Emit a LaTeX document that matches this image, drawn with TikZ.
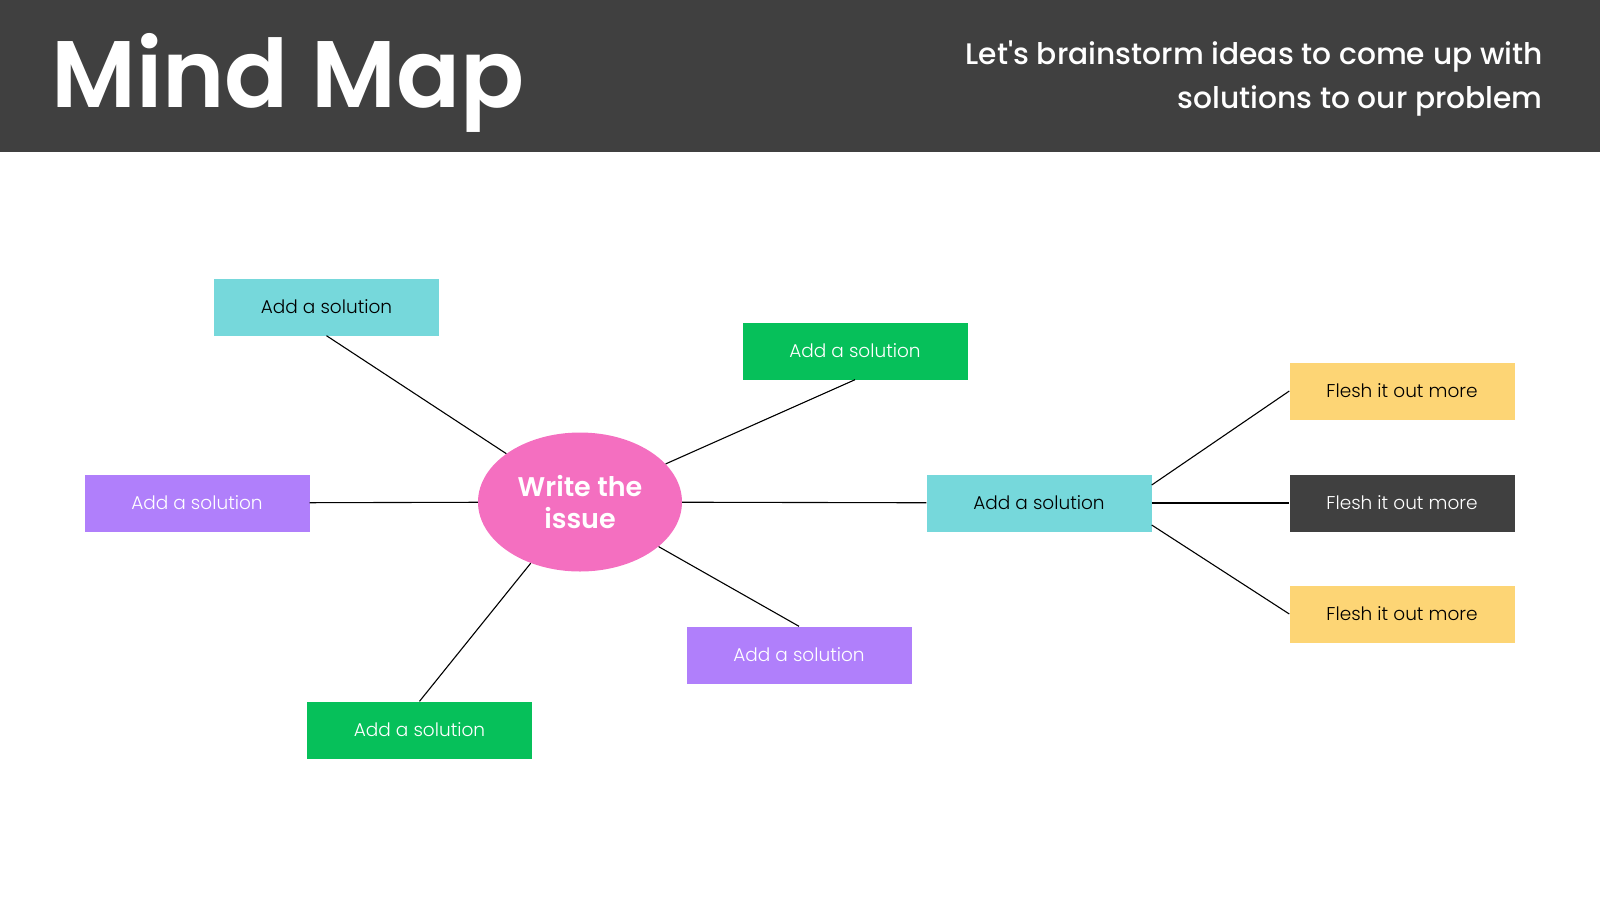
\documentclass[tikz,border=0pt]{standalone}
\usepackage{fontspec}
\setmainfont{Poppins}
\newfontfamily\lightfont{Poppins Light}
\newfontfamily\semifont{Poppins SemiBold}
\newfontfamily\mediumfont{Poppins Medium}
\usetikzlibrary{positioning, calc}
\usetikzlibrary{shapes.geometric}

\definecolor{band}{HTML}{404040}
\definecolor{issuepink}{HTML}{F46FC0}
\definecolor{solcyan}{HTML}{76D8DB}
\definecolor{solpurple}{HTML}{B07FFB}
\definecolor{solgreen}{HTML}{06C05A}
\definecolor{moreyellow}{HTML}{FDD575}

\tikzset{
  idea/.style={rectangle, minimum width=225pt, minimum height=57pt, inner sep=0pt,
    font=\lightfont\fontsize{18.5}{22}\selectfont},
  link/.style={line width=1.1pt, black}
}

\begin{document}
\begin{tikzpicture}[x=1pt,y=-1pt]
			\useasboundingbox (0,0) rectangle (1600,900);
			\fill[band] (0,0) rectangle (1600,152);
			\node[anchor=base west, inner sep=0pt, text=white, font=\semifont\fontsize{94.5}{100}\selectfont] (title) at (51,107) {Mind Map};
			\node[anchor=base east, inner sep=0pt, text=white, font=\mediumfont\fontsize{29.7}{33}\selectfont] (sub1) at (1543,64) {Let's brainstorm ideas to come up with};
			\node[anchor=base east, inner sep=0pt, text=white, font=\mediumfont\fontsize{29.7}{33}\selectfont] (sub2) at (1543,108) {solutions to our problem};
			% centre
			\node[ellipse, fill=issuepink, minimum width=204pt, minimum height=139pt, inner sep=0pt, align=center, text=white, font=\semifont\fontsize{27}{32}\selectfont] (issue) at (580,502) {Write the\\issue};
			% solutions
			\node[idea, fill=solcyan] (sol1) at (326.5,307) {Add a solution};
			\node[idea, fill=solpurple, text=white] (sol2) at (197,503) {Add a solution};
			\node[idea, fill=solgreen, text=white] (sol3) at (855,351) {Add a solution};
			\node[idea, fill=solcyan] (sol4) at (1039,503) {Add a solution};
			\node[idea, fill=solpurple, text=white] (sol5) at (799,655) {Add a solution};
			\node[idea, fill=solgreen, text=white] (sol6) at (419.5,730) {Add a solution};
			% more
			\node[idea, fill=moreyellow] (more1) at (1402,391) {Flesh it out more};
			\node[idea, fill=band, text=white] (more2) at (1402,503) {Flesh it out more};
			\node[idea, fill=moreyellow] (more3) at (1402,614) {Flesh it out more};
			% links
			\draw[link] (sol1.south) -- (issue);
			\draw[link] (sol2) -- (issue);
			\draw[link] (sol3.south) -- (issue);
			\draw[link] (issue) -- (sol4);
			\draw[link] (sol5.north) -- (issue);
			\draw[link] (sol6.north) -- (issue);
			\draw[link] ([yshift=18pt]sol4.east) -- (more1.west);
			\draw[link] (sol4) -- (more2);
			\draw[link] ([yshift=-22pt]sol4.east) -- (more3.west);
\end{tikzpicture}
\end{document}
